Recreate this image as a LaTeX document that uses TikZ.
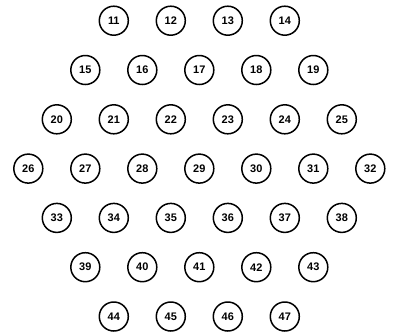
\documentclass[tikz,border=0pt]{standalone}
\usepackage{fontspec}
\setmainfont{Liberation Sans}
\begin{document}
\begin{tikzpicture}[x=1bp,y=-1bp,
  cell/.style={circle,draw,line width=1.5bp,minimum size=29bp,inner sep=0pt,
    font=\fontsize{11}{12}\selectfont\bfseries}]
\useasboundingbox (0,0) rectangle (396,333);
\def\cx{199.3}\def\dx{57}\def\dy{49.3}\def\yo{20.7}
\newcount\lab \lab=11
\foreach \n [count=\r from 0] in {4,5,6,7,6,5,4}{
  \foreach \i in {1,...,\n}{
    \pgfmathsetmacro{\xx}{\cx+(\i-(\n+1)/2)*\dx}
    \pgfmathsetmacro{\yy}{\yo+\r*\dy}
    \node[cell] (c\the\lab) at (\xx,\yy) {\the\lab};
    \global\advance\lab by 1
  }
}
\end{tikzpicture}
\end{document}
